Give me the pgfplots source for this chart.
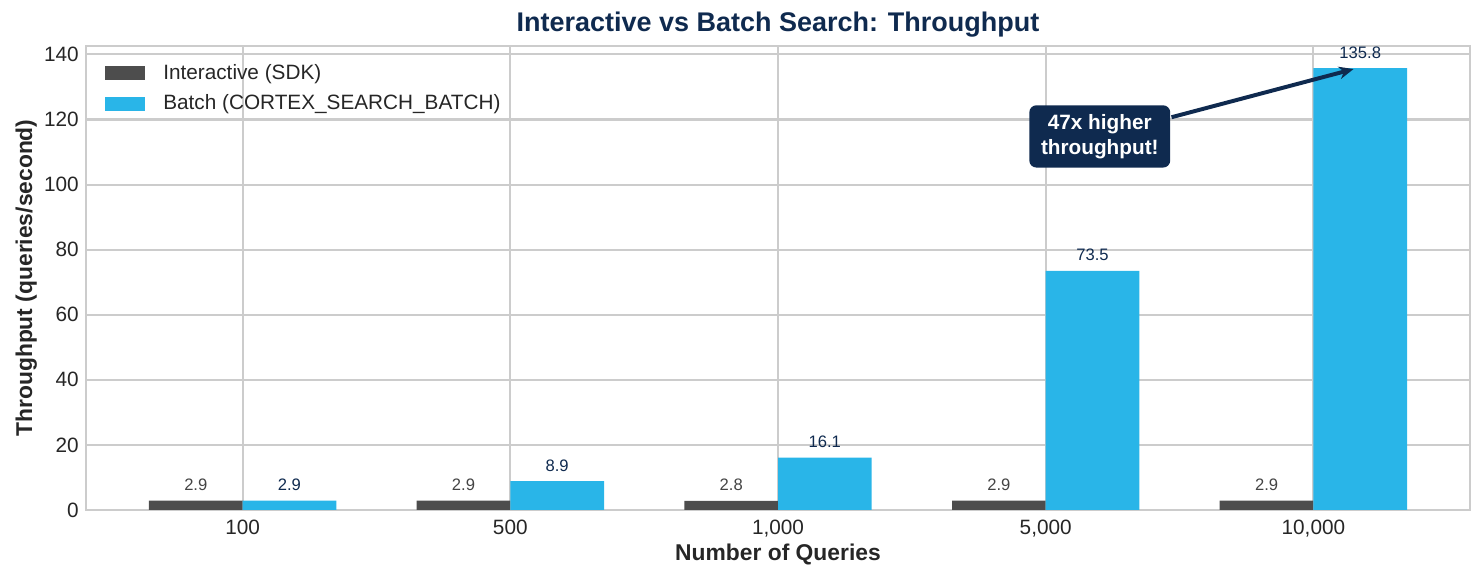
\documentclass[border=0pt]{standalone}
\usepackage{pgfplots}
\pgfplotsset{compat=1.18}
\usepackage{fontspec}
\setmainfont{Liberation Sans}
\usetikzlibrary{arrows.meta}
\definecolor{sdkgray}{HTML}{4D4D4D}
\definecolor{batchblue}{HTML}{29B5E8}
\definecolor{navy}{HTML}{0F2A4F}
\definecolor{gridgray}{HTML}{CCCCCC}
\definecolor{txt}{HTML}{262626}
\definecolor{lblgray}{HTML}{444444}
\begin{document}
\begin{tikzpicture}
\begin{axis}[
  scale only axis, width=664.32bp, height=222.72bp,
  xmin=-0.585, xmax=4.585, ymin=0, ymax=142.59,
  xtick={0,1,2,3,4}, xticklabels={100,500,{1,000},{5,000},{10,000}},
  ytick={0,20,...,140},
  major tick length=0pt,
  grid=major, major grid style={draw=gridgray, line width=1bp},
  axis line style={draw=gridgray, line width=1.25bp},
  tick label style={font=\fontsize{10}{12}\selectfont, text=txt},
  /pgf/number format/assume math mode=true,
  xticklabel style={yshift=-1.5bp},
  xlabel={Number of Queries},
  ylabel={Throughput (queries/second)},
  label style={font=\bfseries\fontsize{11}{13}\selectfont, text=txt},
  xlabel style={at={(axis description cs:0.5,-0.1091)}, anchor=base},
  ylabel style={at={(axis description cs:-0.0390,0.5)}, anchor=base},
  every axis title shift/.style={},
  title={Interactive vs Batch Search: Throughput},
  title style={at={(axis description cs:0.5,1.0274)}, anchor=base, yshift=-5bp, font=\bfseries\fontsize{13}{16}\selectfont, text=navy},
  legend style={at={(axis description cs:0,1)}, anchor=north west, xshift=9.1bp, yshift=-8.5bp,
    draw=none, fill=none, inner sep=0pt, row sep=6bp, column sep=8.6bp,
    font=\fontsize{10}{12}\selectfont, text=txt, nodes={inner sep=0pt}},
  legend cell align=left,
  legend image code/.code={\fill[#1] (0bp,-3.3bp) rectangle (19.2bp,3.3bp);},
]
\coordinate (SW) at (rel axis cs:0,0);
\coordinate (NE) at (rel axis cs:1,1);
\addplot[ybar, bar width=0.35, bar shift=-0.175, fill=sdkgray, draw=none,
  nodes near coords,
  nodes near coords style={font=\fontsize{8}{10}\selectfont, text=lblgray, anchor=base, inner sep=0pt, yshift=4.8bp, xshift=-22.47bp},
  /pgf/number format/.cd, fixed, fixed zerofill, precision=1]
  coordinates {(0,2.9) (1,2.9) (2,2.8) (3,2.9) (4,2.9)};
\addlegendentry{Interactive (SDK)}
\addplot[ybar, bar width=0.35, bar shift=0.175, fill=batchblue, draw=none,
  nodes near coords,
  nodes near coords style={font=\fontsize{8}{10}\selectfont, text=navy, anchor=base, inner sep=0pt, yshift=4.8bp, xshift=22.47bp},
  /pgf/number format/.cd, fixed, fixed zerofill, precision=1]
  coordinates {(0,2.9) (1,8.9) (2,16.1) (3,73.5) (4,135.8)};
\addlegendentry{Batch (CORTEX\_SEARCH\_BATCH)}
\draw[navy, line width=1.9bp, -{Stealth[length=7bp,width=6bp]}] (axis cs:3.47,120.7) -- (axis cs:4.15,135.5);
\node[fill=navy, text=white, rounded corners=3.4bp, align=center,
  font=\bfseries\fontsize{10}{12}\selectfont, inner xsep=5.6bp, inner ysep=4.3bp]
  at (axis cs:3.202,114.8) {47x higher\\throughput!};
\end{axis}
\pgfresetboundingbox
\path ([shift={(-41.28bp,-33.6bp)}]SW) rectangle ([shift={(6.72bp,22.08bp)}]NE);
\end{tikzpicture}
\end{document}
